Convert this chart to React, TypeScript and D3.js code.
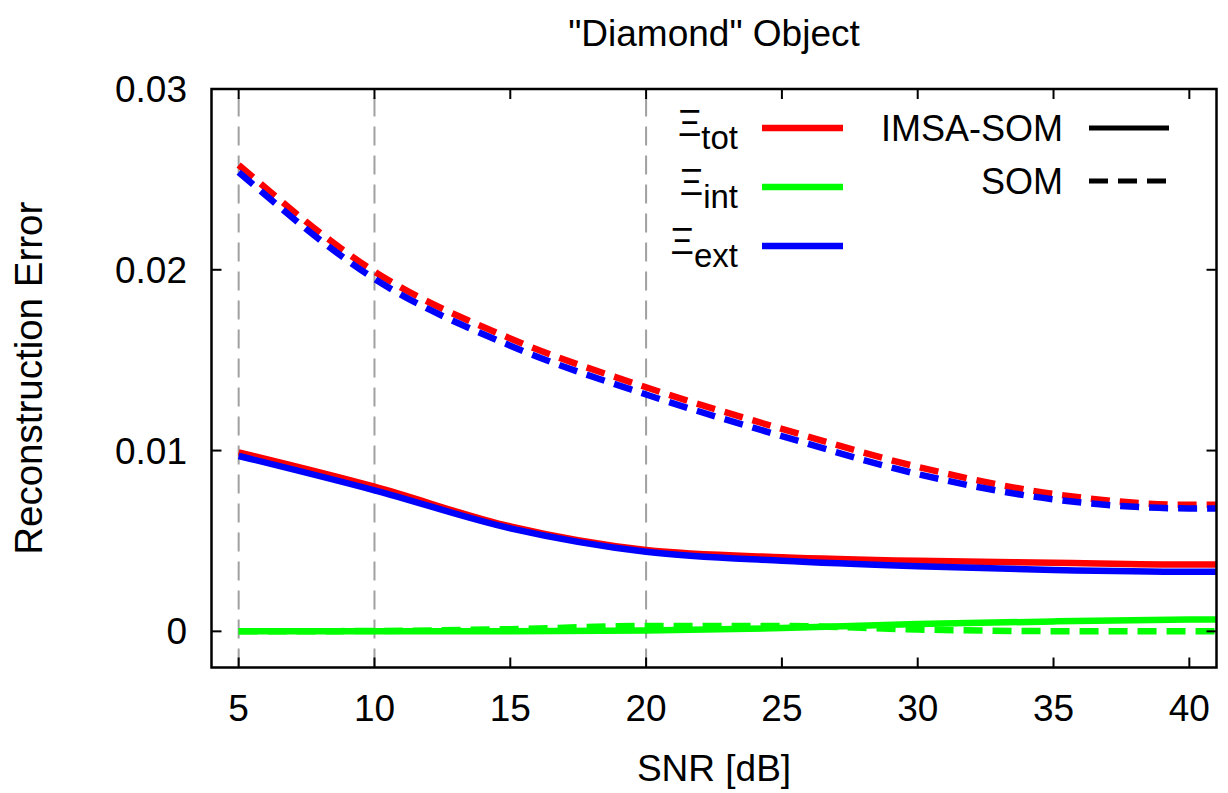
import React from "react";
import * as d3 from "d3";

// SNR sample points (dB)
const snr = [5, 10, 15, 20, 25, 30, 35, 40, 41];

// IMSA-SOM reconstruction errors
const imsaTot = [0.0099, 0.008, 0.0058, 0.0045, 0.0041, 0.0039, 0.0038, 0.0037, 0.0037];
const imsaInt = [0, 0, 0.00001, 0.00005, 0.00018, 0.0004, 0.00055, 0.00065, 0.00066];
const imsaExt = [0.0097, 0.0078, 0.0057, 0.0044, 0.0039, 0.0036, 0.0034, 0.0033, 0.0033];

// SOM reconstruction errors
const somTot = [0.0258, 0.0199, 0.0162, 0.0135, 0.0112, 0.0091, 0.0076, 0.007, 0.007];
const somInt = [0, 0.00002, 0.00012, 0.0003, 0.0003, 0.0001, 0.00001, 0, 0];
const somExt = [0.0254, 0.0195, 0.0158, 0.0131, 0.0108, 0.0087, 0.0073, 0.0068, 0.0068];

const xTicks = [5, 10, 15, 20, 25, 30, 35, 40];
const yTicks = [0, 0.01, 0.02, 0.03];
const yTickLabels = ["0", "0.01", "0.02", "0.03"];
const gridX = [5, 10, 20];

const errorLegend = [
  { sub: "tot", color: "#ff0000" },
  { sub: "int", color: "#00ff00" },
  { sub: "ext", color: "#0000ff" },
];
const methodLegend = [
  { name: "IMSA-SOM", dash: "none" },
  { name: "SOM", dash: "19,10" },
];

const W = 1228;
const H = 793;
const left = 211.5;
const right = 1216.5;
const top = 89;
const bottom = 667.5;
const FONT = "'Liberation Sans', Arial, Helvetica, sans-serif";
const FS = 37;

export default function App() {
  const x = d3.scaleLinear().domain([4, 41]).range([left, right]);
  const y = d3.scaleLinear().domain([-0.002, 0.03]).range([bottom, top]);

  const line = d3
    .line<number>()
    .x((_, i) => x(snr[i]))
    .y((d) => y(d))
    .curve(d3.curveMonotoneX);

  const series = [
    { values: imsaTot, color: "#ff0000", dash: "none" },
    { values: imsaInt, color: "#00ff00", dash: "none" },
    { values: imsaExt, color: "#0000ff", dash: "none" },
    { values: somTot, color: "#ff0000", dash: "19,10" },
    { values: somInt, color: "#00ff00", dash: "19,10" },
    { values: somExt, color: "#0000ff", dash: "19,10" },
  ];

  return (
    <svg
      width={W}
      height={H}
      style={{ position: "absolute", left: 0, top: 0, background: "#fff" }}
      fontFamily={FONT}
    >
      <defs>
        <clipPath id="plotArea">
          <rect x={left} y={top} width={right - left} height={bottom - top} />
        </clipPath>
      </defs>
      <rect x={0} y={0} width={W} height={H} fill="#fff" />

      {/* vertical grid */}
      {gridX.map((g) => (
        <line
          key={"g" + g}
          x1={x(g)}
          x2={x(g)}
          y1={bottom}
          y2={top}
          stroke="#a0a0a0"
          strokeWidth={2}
          strokeDasharray="19,10"
        />
      ))}

      {/* data */}
      <g clipPath="url(#plotArea)">
        {series.map((s, i) => (
          <path
            key={i}
            d={line(s.values) || ""}
            fill="none"
            stroke={s.color}
            strokeWidth={6.5}
            strokeDasharray={s.dash}
            strokeLinejoin="round"
          />
        ))}
      </g>

      {/* frame */}
      <rect
        x={left}
        y={top}
        width={right - left}
        height={bottom - top}
        fill="none"
        stroke="#000"
        strokeWidth={2.5}
      />

      {/* x ticks */}
      {xTicks.map((t) => (
        <g key={"xt" + t}>
          <line x1={x(t)} x2={x(t)} y1={bottom} y2={bottom - 10} stroke="#000" strokeWidth={2} />
          <line x1={x(t)} x2={x(t)} y1={top} y2={top + 10} stroke="#000" strokeWidth={2} />
          <text x={x(t)} y={721} fontSize={FS} textAnchor="middle" fill="#000">
            {t}
          </text>
        </g>
      ))}

      {/* y ticks */}
      {yTicks.map((t, i) => (
        <g key={"yt" + t}>
          <line x1={left} x2={left + 10} y1={y(t)} y2={y(t)} stroke="#000" strokeWidth={2} />
          <line x1={right} x2={right - 10} y1={y(t)} y2={y(t)} stroke="#000" strokeWidth={2} />
          <text x={187} y={y(t) + 13} fontSize={FS} textAnchor="end" fill="#000">
            {yTickLabels[i]}
          </text>
        </g>
      ))}

      {/* titles */}
      <text x={(left + right) / 2} y={46} fontSize={FS} textAnchor="middle" fill="#000">
        "Diamond" Object
      </text>
      <text x={(left + right) / 2} y={781} fontSize={FS} textAnchor="middle" fill="#000">
        SNR [dB]
      </text>
      <text
        transform={`translate(42,${(top + bottom) / 2}) rotate(-90)`}
        fontSize={38.5}
        textAnchor="middle"
        fill="#000"
      >
        Reconstruction Error
      </text>

      {/* error component legend */}
      {errorLegend.map((e, i) => {
        const ly = 128 + i * 59;
        return (
          <g key={"el" + e.sub}>
            <text x={738} y={ly + 8} textAnchor="end" fill="#000">
              <tspan fontSize={36}>Ξ</tspan>
              <tspan fontSize={33} dy={13}>
                {e.sub}
              </tspan>
            </text>
            <line x1={762} x2={843} y1={ly} y2={ly} stroke={e.color} strokeWidth={6.5} />
          </g>
        );
      })}

      {/* method legend */}
      {methodLegend.map((m, i) => {
        const ly = 128 + i * 53;
        return (
          <g key={"ml" + m.name}>
            <text x={1063} y={ly + 13} fontSize={36} textAnchor="end" fill="#000">
              {m.name}
            </text>
            <line
              x1={1089}
              x2={1169}
              y1={ly}
              y2={ly}
              stroke="#000"
              strokeWidth={5}
              strokeDasharray={m.dash}
            />
          </g>
        );
      })}
    </svg>
  );
}
